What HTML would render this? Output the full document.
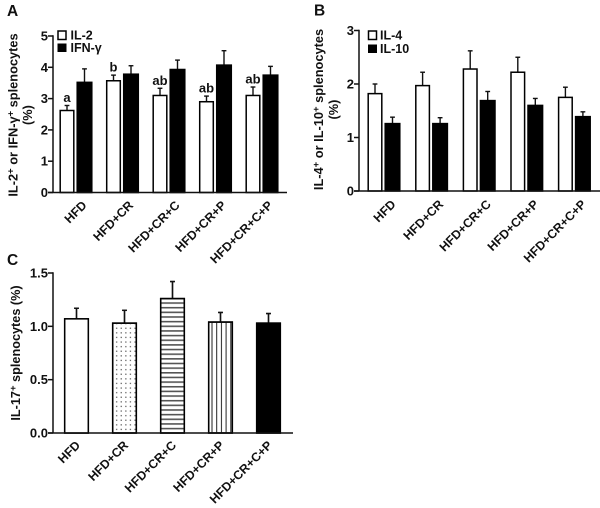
<!DOCTYPE html>
<html>
<head>
<meta charset="utf-8">
<style>
html,body{margin:0;padding:0;background:#fff;width:600px;height:508px;overflow:hidden}
svg{display:block}
text{font-family:"Liberation Sans",sans-serif;font-weight:bold;fill:#111}
</style>
</head>
<body>
<svg id="chart" width="600" height="508" viewBox="0 0 600 508" xmlns="http://www.w3.org/2000/svg">
<defs>
<pattern id="dots" width="4.6" height="4.6" patternUnits="userSpaceOnUse"><rect x="1" y="1" width="1.3" height="1.3" fill="#666"/></pattern>
<pattern id="hlines" width="5" height="4.65" patternUnits="userSpaceOnUse"><rect width="5" height="1.6" fill="#555"/></pattern>
<pattern id="vlines" width="4.7" height="5" patternUnits="userSpaceOnUse"><rect width="1" height="5" fill="#222"/></pattern>
</defs>
<text x="7" y="16" font-size="15.5">A</text>
<text x="314" y="15.5" font-size="15.5">B</text>
<text x="7" y="265" font-size="15.5">C</text>
<g>
<text transform="translate(17.5,115) rotate(-90)" text-anchor="middle" font-size="12.8">IL-2<tspan dy="-4" font-size="9.5">+</tspan><tspan dy="4"> or IFN-γ</tspan><tspan dy="-4" font-size="9.5">+</tspan><tspan dy="4"> splenocytes</tspan></text>
<text transform="translate(32,115) rotate(-90)" text-anchor="middle" font-size="12.8">(%)</text>
</g>
<g>
<text transform="translate(323,109.5) rotate(-90)" text-anchor="middle" font-size="12.8">IL-4<tspan dy="-4" font-size="9.5">+</tspan><tspan dy="4"> or IL-10</tspan><tspan dy="-4" font-size="9.5">+</tspan><tspan dy="4"> splenocytes</tspan></text>
<text transform="translate(338,109.5) rotate(-90)" text-anchor="middle" font-size="12.8">(%)</text>
</g>
<g>
<text transform="translate(20,353) rotate(-90)" text-anchor="middle" font-size="12.7">IL-17<tspan dy="-4" font-size="9.5">+</tspan><tspan dy="4"> splenocytes (%)</tspan></text>
</g>
<g>
<rect x="58" y="31" width="8" height="8.5" fill="#fff" stroke="#000" stroke-width="1.5"/>
<text x="70.5" y="39.5" font-size="12.5">IL-2</text>
<rect x="57.5" y="43.5" width="9" height="8.5" fill="#000"/>
<text x="70.5" y="52" font-size="12.5">IFN-γ</text>
</g>
<g>
<rect x="368.5" y="31" width="8" height="8.5" fill="#fff" stroke="#000" stroke-width="1.5"/>
<text x="380" y="39.5" font-size="12.5">IL-4</text>
<rect x="368" y="44.5" width="9" height="8.5" fill="#000"/>
<text x="380" y="53" font-size="12.5">IL-10</text>
</g>
<g id="plots"></g>
</svg>
<script>
var categories = ["HFD", "HFD+CR", "HFD+CR+C", "HFD+CR+P", "HFD+CR+C+P"];

var il2Values = [2.62, 3.57, 3.10, 2.90, 3.10];
var il2Errors = [0.16, 0.18, 0.23, 0.18, 0.27];
var ifnValues = [3.52, 3.78, 3.93, 4.07, 3.75];
var ifnErrors = [0.43, 0.27, 0.30, 0.46, 0.28];
var sigLabels = ["a", "b", "ab", "ab", "ab"];
var ticksA = [0, 1, 2, 3, 4, 5];
var tickLabelsA = ["0", "1", "2", "3", "4", "5"];

var il4Values = [1.82, 1.97, 2.28, 2.22, 1.75];
var il4Errors = [0.18, 0.25, 0.34, 0.28, 0.19];
var il10Values = [1.26, 1.26, 1.69, 1.60, 1.39];
var il10Errors = [0.12, 0.11, 0.17, 0.13, 0.09];
var ticksB = [0, 1, 2, 3];
var tickLabelsB = ["0", "1", "2", "3"];

var il17Values = [1.07, 1.03, 1.26, 1.04, 1.03];
var il17Errors = [0.10, 0.12, 0.16, 0.09, 0.09];
var ticksC = [0, 0.5, 1.0, 1.5];
var tickLabelsC = ["0.0", "0.5", "1.0", "1.5"];

var NS = "http://www.w3.org/2000/svg";
var root = document.getElementById("plots");

function make(tag, attrs, parent) {
  var el = document.createElementNS(NS, tag);
  for (var k in attrs) el.setAttribute(k, attrs[k]);
  parent.appendChild(el);
  return el;
}

function scale(d0, d1, r0, r1) {
  return function (v) { return r0 + (v - d0) / (d1 - d0) * (r1 - r0); };
}

function drawAxes(g, axisX, endX, y, ticks, labels, topValue) {
  var yAxis = make("line", {x1: axisX, x2: axisX, y1: y(topValue) - 0.7, y2: y(0), stroke: "#111", "stroke-width": 1.5}, g);
  
  
  var xAxis = make("line", {x1: axisX - 5, x2: endX, y1: y(0), y2: y(0), stroke: "#111", "stroke-width": 1.5}, g);
  
  
  ticks.forEach(function (t, i) {
    var tick = make("line", {x1: axisX - 5, x2: axisX, y1: y(t), y2: y(t), stroke: "#111", "stroke-width": 1.5}, g);
    
    
    var lab = make("text", {x: axisX - 5, y: y(t) + 4.5, "text-anchor": "end", "font-size": 13}, g);
    
    
    lab.textContent = labels[i];
  });
}

function drawBar(g, x0, x1, y, value, err, fill, name) {
  var capW = 2.4;
  var mid = (x0 + x1) / 2;
  var errLine = make("line", {x1: mid, x2: mid, y1: y(value), y2: y(value + err), stroke: "#111", "stroke-width": 1.4}, g);
  
  
  var errCap = make("line", {x1: mid - capW, x2: mid + capW, y1: y(value + err), y2: y(value + err), stroke: "#111", "stroke-width": 1.4}, g);
  
  
  var bar = make("rect", {x: x0 + 0.7, y: y(value), width: x1 - x0 - 1.4, height: y(0) - y(value), stroke: "#000", "stroke-width": 1.5, fill: fill}, g);
  
  
}

function drawCategoryLabels(g, xs, baseY) {
  categories.forEach(function (c, i) {
    var t = make("text", {transform: "translate(" + xs(i) + "," + baseY + ") rotate(-45)", "text-anchor": "end", "font-size": 12.4}, g);
    
    
    t.textContent = c;
  });
}

function drawGrouped(name, axisX, endX, yZero, yTop, topValue, ticks, labels, firstX, step, a, aErr, b, bErr, labelY, labelDx) {
  var g = make("g", {}, root);
  
  
  var y = scale(0, topValue, yZero, yTop);
  var bandX = function (i) { return firstX + i * step; };
  categories.forEach(function (c, i) {
    drawBar(g, bandX(i), bandX(i) + 15, y, a[i], aErr[i], "#fff", "bar-white-" + i);
    drawBar(g, bandX(i) + 17, bandX(i) + 33, y, b[i], bErr[i], "#000", "bar-black-" + i);
  });
  drawAxes(g, axisX, endX, y, ticks, labels, topValue);
  drawCategoryLabels(g, function (i) { return bandX(i) + labelDx; }, labelY);
  return {g: g, y: y, bandX: bandX};
}

var panelA = drawGrouped("panel-a", 53, 287, 192.5, 36, 5, ticksA, tickLabelsA, 59.5, 46.5, il2Values, il2Errors, ifnValues, ifnErrors, 206, 28);
sigLabels.forEach(function (s, i) {
  var t = make("text", {x: panelA.bandX(i) + 7.5, y: panelA.y(il2Values[i] + il2Errors[i]) - 3.5, "text-anchor": "middle", "font-size": 13}, panelA.g);
  
  
  t.textContent = s;
});

drawGrouped("panel-b", 359, 600, 191, 30.5, 3, ticksB, tickLabelsB, 367.5, 47.6, il4Values, il4Errors, il10Values, il10Errors, 205, 29);

var fillsC = ["#fff", "url(#dots)", "url(#hlines)", "url(#vlines)", "#000"];
(function () {
  var g = make("g", {}, root);
  
  
  var y = scale(0, 1.5, 433, 273);
  var bandX = function (i) { return 64 + i * 48; };
  categories.forEach(function (c, i) {
    drawBar(g, bandX(i), bandX(i) + 25, y, il17Values[i], il17Errors[i], "#fff", "bar-backing-" + i);
    drawBar(g, bandX(i), bandX(i) + 25, y, il17Values[i], il17Errors[i], fillsC[i], "bar-il-17-" + i);
  });
  drawAxes(g, 53, 293, y, ticksC, tickLabelsC, 1.5);
  drawCategoryLabels(g, function (i) { return bandX(i) + 17; }, 446);
})();
</script>
</body>
</html>
